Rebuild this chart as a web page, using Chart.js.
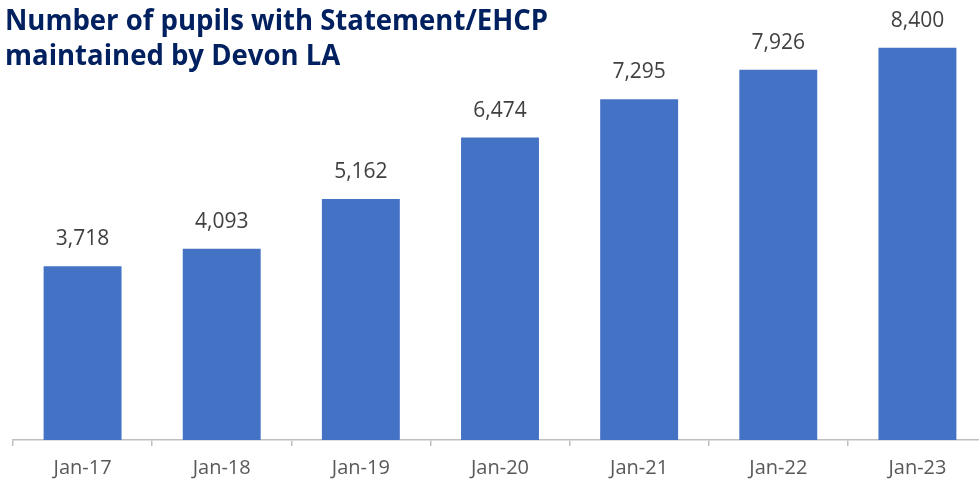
<!DOCTYPE html>
<html>
<head>
<meta charset="utf-8">
<script src="https://cdn.jsdelivr.net/npm/chart.js@4.4.0/dist/chart.umd.min.js"></script>
<style>
  html, body { margin: 0; padding: 0; background: #fff; overflow: hidden; }
  #marco { position: relative; width: 979px; height: 484px; overflow: hidden; }
  #lienzo { position: absolute; left: 0; top: 0; width: 990px; height: 493px; }
  #titulo {
    position: absolute; left: 5px; top: 2px; z-index: 2;
    font-family: "Open Sans", sans-serif;
    font-weight: bold; font-size: 28px; line-height: 35px; color: #002060;
    transform-origin: 0 0; white-space: nowrap;
  }
</style>
</head>
<body>
<div id="marco">
  <div id="titulo"><span id="linea1">Number of pupils with Statement/EHCP</span><br>maintained by Devon LA</div>
  <div id="lienzo"><canvas id="grafica"></canvas></div>
</div>
<script>
const categorias = ['Jan-17', 'Jan-18', 'Jan-19', 'Jan-20', 'Jan-21', 'Jan-22', 'Jan-23'];
const alumnos = [3718, 4093, 5162, 6474, 7295, 7926, 8400];

// Etiquetas de valor encima de cada barra
const etiquetasValor = {
    id: 'etiquetasValor',
    afterDatasetsDraw(chart) {
        const ctx = chart.ctx;
        ctx.save();
        ctx.font = '21px "Open Sans", sans-serif';
        ctx.fillStyle = '#404040';
        ctx.textAlign = 'center';
        ctx.textBaseline = 'middle';
        chart.getDatasetMeta(0).data.forEach((barra, i) => {
            ctx.fillText(alumnos[i].toLocaleString('en-GB'), barra.x, barra.y - 27);
        });
        ctx.restore();
    }
};

new Chart(document.getElementById('grafica'), {
    type: 'bar',
    data: {
        labels: categorias,
        datasets: [{
            data: alumnos,
            backgroundColor: '#4472C4',
            categoryPercentage: 1,
            barPercentage: 0.56
        }]
    },
    options: {
        responsive: true,
        maintainAspectRatio: false,
        animation: false,
        layout: { padding: { left: 13, right: 3, top: 0, bottom: 3 } },
        plugins: { legend: { display: false }, tooltip: { enabled: false } },
        scales: {
            x: {
                offset: true,
                grid: { offset: true, drawOnChartArea: false, drawTicks: true, tickLength: 6, color: '#bfbfbf', lineWidth: 1.5 },
                border: { color: '#bfbfbf', width: 1.5 },
                ticks: { color: '#595959', font: { family: '"Open Sans", sans-serif', size: 20 }, padding: 10 }
            },
            y: {
                display: false,
                min: 0,
                max: 9420
            }
        }
    },
    plugins: [etiquetasValor]
});

// Ajustar el ancho del título al del original (primera línea ~543 px)
const titulo = document.getElementById('titulo');
const ancho = document.getElementById('linea1').getBoundingClientRect().width;
titulo.style.transform = 'scaleX(' + (543 / ancho) + ')';
</script>
</body>
</html>
